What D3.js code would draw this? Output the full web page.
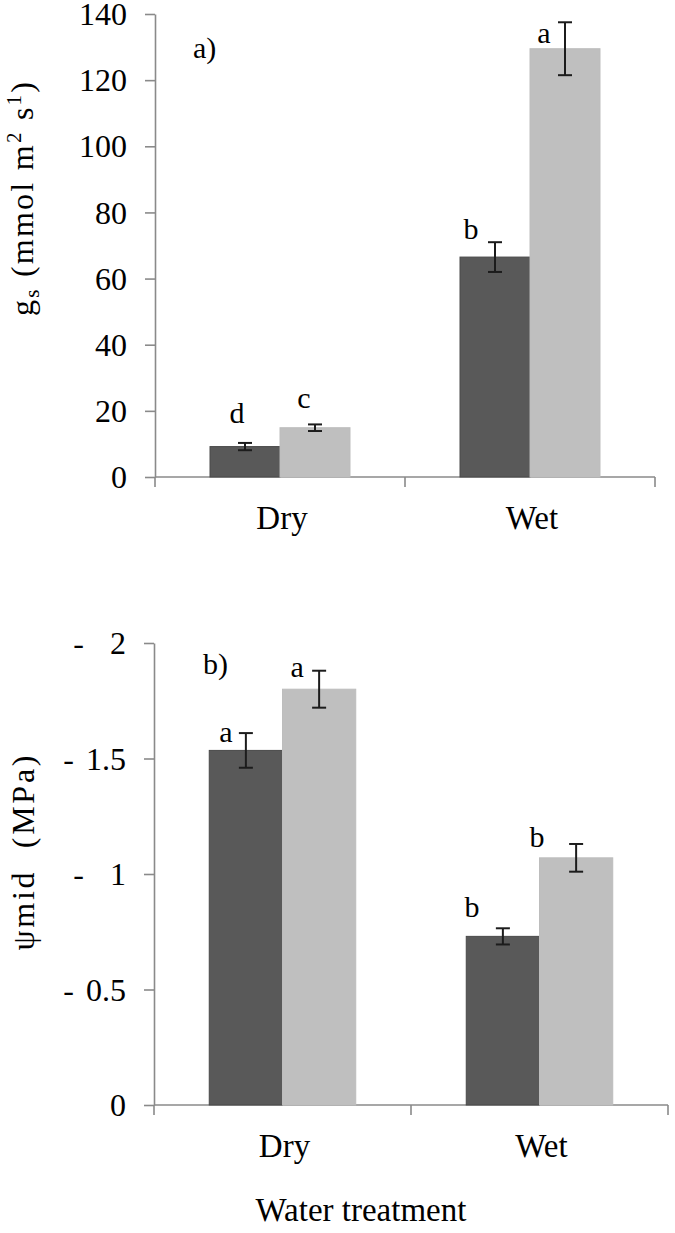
<!DOCTYPE html>
<html><head><meta charset="utf-8">
<script src="https://cdn.jsdelivr.net/npm/d3@7"></script>
</head><body style="margin:0;background:#fff">
<svg id="chart" width="675" height="1233"></svg>
<script>
// ---------------- data ----------------
const categories = ["Dry", "Wet"];
const seriesNames = ["dark", "light"];

// panel a) stomatal conductance gs (mmol m-2 s-1)
const gsDark = [9.2, 66.5];
const gsDarkErr = [1.1, 4.5];
const gsLight = [14.9, 129.5];
const gsLightErr = [1.0, 8.0];
const gsLettersDark = ["d", "b"];
const gsLettersLight = ["c", "a"];
const gsTicks = [0, 20, 40, 60, 80, 100, 120, 140];
const gsTickLabels = ["0", "20", "40", "60", "80", "100", "120", "140"];

// panel b) midday water potential (MPa, shown as negative)
const psiDark = [1.535, 0.73];
const psiDarkErr = [0.075, 0.035];
const psiLight = [1.80, 1.07];
const psiLightErr = [0.08, 0.06];
const psiLettersDark = ["a", "b"];
const psiLettersLight = ["a", "b"];
const psiTicks = [0, 0.5, 1, 1.5, 2];
const psiTickLabels = ["0", "- 0.5", "- 1", "- 1.5", "- 2"];

const xTitle = "Water treatment";

// ---------------- style / layout ----------------
const FONT = '"Liberation Serif"';
const colors = {dark: "#595959", light: "#bfbfbf"};
const strokes = {dark: "#4a4a4a", light: "#bdbdbd"};
const axisColor = "#8a8a8a";
const errColor = "#1c1c1c";

const svg = d3.select("#chart");

function T(sel) { return sel.style("font-family", FONT).attr("fill", "#000"); }

function panel(cfg) {
  const g = svg.append("g");
  const y = d3.scaleLinear().domain(cfg.domain).range([cfg.y0, cfg.y1]);
  const x = d3.scaleBand().domain(categories).range([cfg.x0, cfg.x1])
      .paddingInner(cfg.padIn).paddingOuter(cfg.padIn / 2);
  const xs = d3.scaleBand().domain(seriesNames).range([0, x.bandwidth()]);

  // y axis
  const yAxis = d3.axisLeft(y).tickValues(cfg.ticks).tickSize(10).tickSizeOuter(0)
      .tickFormat(() => "");
  const ya = g.append("g").attr("transform", `translate(${cfg.x0},0)`).call(yAxis);
  ya.select(".domain").attr("stroke", axisColor).attr("stroke-width", 1.6);
  ya.selectAll(".tick line").attr("stroke", axisColor).attr("stroke-width", 1.6);
  ya.selectAll(".tick text").remove();
  // tick labels
  cfg.ticks.forEach((t, i) => {
    const lab = cfg.tickLabels[i];
    const txt = T(g.append("text")).attr("x", cfg.x0 - 28).attr("y", y(t))
      .attr("dy", "0.35em").attr("text-anchor", "end").attr("font-size", 32);
    if (lab.startsWith("- ")) {
      const num = lab.slice(2);
      txt.append("tspan").text("-");
      txt.append("tspan").attr("dx", num.includes(".") ? 12 : 26).text(num);
    } else {
      txt.text(lab);
    }
  });

  // x axis line with category boundary ticks
  const yb = y(0);
  g.append("line").attr("x1", cfg.x0).attr("x2", cfg.x1).attr("y1", yb).attr("y2", yb)
    .attr("stroke", axisColor).attr("stroke-width", 1.6);
  const bounds = d3.range(categories.length + 1).map(i => cfg.x0 + i * x.step());
  g.selectAll(".bt").data(bounds).join("line")
    .attr("x1", d => d).attr("x2", d => d).attr("y1", yb).attr("y2", yb + 10)
    .attr("stroke", axisColor).attr("stroke-width", 1.6);

  // bars
  const rows = [];
  categories.forEach((c, i) => {
    rows.push({c, s: "dark", v: cfg.dark[i], e: cfg.darkErr[i], l: cfg.lettersDark[i], off: cfg.offDark[i]});
    rows.push({c, s: "light", v: cfg.light[i], e: cfg.lightErr[i], l: cfg.lettersLight[i], off: cfg.offLight[i]});
  });
  g.selectAll(".bar").data(rows).join("rect")
    .attr("x", d => x(d.c) + xs(d.s))
    .attr("width", xs.bandwidth())
    .attr("y", d => y(d.v))
    .attr("height", d => y(0) - y(d.v))
    .attr("fill", d => colors[d.s])
    .attr("stroke", d => strokes[d.s]).attr("stroke-width", 1);

  // error bars
  const cx = d => x(d.c) + xs(d.s) + xs.bandwidth() / 2;
  const eb = g.selectAll(".err").data(rows).join("g").attr("stroke", errColor).attr("stroke-width", 2);
  eb.append("line").attr("x1", cx).attr("x2", cx).attr("y1", d => y(d.v + d.e)).attr("y2", d => y(d.v - d.e));
  eb.append("line").attr("x1", d => cx(d) - 7).attr("x2", d => cx(d) + 7).attr("y1", d => y(d.v + d.e)).attr("y2", d => y(d.v + d.e));
  eb.append("line").attr("x1", d => cx(d) - 7).attr("x2", d => cx(d) + 7).attr("y1", d => y(d.v - d.e)).attr("y2", d => y(d.v - d.e));

  // significance letters
  T(g.selectAll(".let").data(rows).join("text"))
    .attr("x", d => cx(d) + d.off[0]).attr("y", d => y(d.v + d.e) + d.off[1])
    .attr("text-anchor", "middle").attr("font-size", 30).text(d => d.l);

  // category labels
  T(g.selectAll(".cat").data(categories).join("text"))
    .attr("x", d => x(d) + x.bandwidth() / 2 + 2).attr("y", cfg.catY)
    .attr("text-anchor", "middle").attr("font-size", 33).text(d => d);

  // panel tag
  T(g.append("text")).attr("x", cfg.tag[0]).attr("y", cfg.tag[1]).attr("font-size", 30).text(cfg.tagText);

  return {g, x, y};
}

// panel a
panel({
  domain: [0, 140], y0: 477, y1: 14, x0: 155, x1: 655, padIn: 0.44,
  ticks: gsTicks, tickLabels: gsTickLabels,
  dark: gsDark, darkErr: gsDarkErr, light: gsLight, lightErr: gsLightErr,
  lettersDark: gsLettersDark, lettersLight: gsLettersLight,
  offDark: [[-8, -20], [-24, -3]], offLight: [[-11, -16], [-21, 21]],
  catY: 529, tag: [193, 58], tagText: "a)"
});
const ta = T(svg.append("text")).attr("transform", "translate(33,199) rotate(-90)")
  .attr("text-anchor", "middle").attr("font-size", 32).style("white-space", "pre")
  .attr("textLength", 234).attr("lengthAdjust", "spacing");
ta.append("tspan").text("g");
ta.append("tspan").attr("font-size", 21).attr("dy", 6).text("s");
ta.append("tspan").attr("dy", -6).text(" (mmol m");
ta.append("tspan").attr("font-size", 21).attr("dy", -12).text("2");
ta.append("tspan").attr("dy", 12).text(" s");
ta.append("tspan").attr("font-size", 21).attr("dy", -12).text("1");
ta.append("tspan").attr("dy", 12).text(")");

// panel b
panel({
  domain: [0, 2], y0: 1105, y1: 643, x0: 154, x1: 668, padIn: 0.43,
  ticks: psiTicks, tickLabels: psiTickLabels,
  dark: psiDark, darkErr: psiDarkErr, light: psiLight, lightErr: psiLightErr,
  lettersDark: psiLettersDark, lettersLight: psiLettersLight,
  offDark: [[-20, 9], [-31, -11]], offLight: [[-22, 6], [-39, 3]],
  catY: 1157, tag: [203, 674], tagText: "b)"
});
T(svg.append("text")).attr("transform", "translate(34,853) rotate(-90)")
  .attr("text-anchor", "middle").attr("font-size", 32).style("white-space", "pre")
  .attr("textLength", 195).attr("lengthAdjust", "spacing")
  .text("ψmid  (MPa)");

T(svg.append("text")).attr("x", 361).attr("y", 1221).attr("text-anchor", "middle")
  .attr("font-size", 33).text(xTitle);
</script>
</body></html>
